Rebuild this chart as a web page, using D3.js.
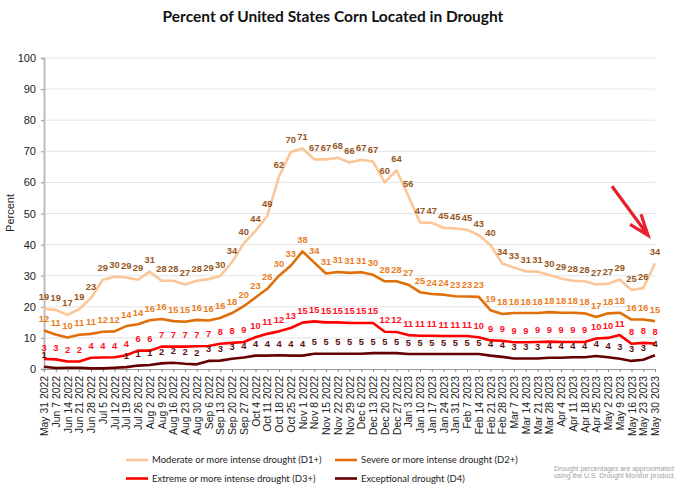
<!DOCTYPE html>
<html>
<head>
<meta charset="utf-8">
<script src="https://cdn.jsdelivr.net/npm/d3@7"></script>
<style>
  html, body { margin: 0; padding: 0; background: #fff; }
  svg { display: block; }
  text { font-family: "Liberation Sans", Arial, sans-serif; }
</style>
</head>
<body>
<div id="chart"></div>
<script>
const dates = ['May 31 2022','Jun 7 2022','Jun 14 2022','Jun 21 2022','Jun 28 2022','Jul 5 2022','Jul 12 2022','Jul 19 2022','Jul 26 2022',
  'Aug 2 2022','Aug 9 2022','Aug 16 2022','Aug 23 2022','Aug 30 2022','Sep 6 2022','Sep 13 2022','Sep 20 2022','Sep 27 2022',
  'Oct 4 2022','Oct 11 2022','Oct 18 2022','Oct 25 2022','Nov 1 2022','Nov 8 2022','Nov 15 2022','Nov 22 2022','Nov 29 2022',
  'Dec 6 2022','Dec 13 2022','Dec 20 2022','Dec 27 2022','Jan 3 2023','Jan 10 2023','Jan 17 2023','Jan 24 2023','Jan 31 2023',
  'Feb 7 2023','Feb 14 2023','Feb 21 2023','Feb 28 2023','Mar 7 2023','Mar 14 2023','Mar 21 2023','Mar 28 2023',
  'Apr 4 2023','Apr 11 2023','Apr 18 2023','Apr 25 2023','May 2 2023','May 9 2023','May 16 2023','May 23 2023','May 30 2023'];

const d1 = [19.3,19.0,17.4,19.3,22.8,28.7,29.7,29.4,28.7,31.3,28.4,28.4,27.2,28.4,28.9,29.9,34.4,40.4,44.4,49.2,61.9,69.8,70.9,67.4,67.4,67.9,66.4,67.3,66.7,60.0,63.9,55.7,47.1,47.0,45.4,45.2,44.8,43.0,39.9,33.9,32.6,31.4,31.3,30.2,29.1,28.4,28.2,27.2,27.4,28.8,25.4,26.0,34.0];
const d2 = [12.4,11.1,10.1,11.0,11.3,12.0,12.1,13.8,14.4,15.7,16.1,15.4,15.2,15.8,15.6,16.4,18.0,20.2,23.0,25.8,30.0,33.2,37.8,34.2,30.7,31.2,30.9,31.1,30.3,28.2,28.2,27.1,24.7,24.1,23.9,23.4,23.3,23.2,18.9,17.7,18.0,18.0,18.0,18.3,18.1,18.1,17.9,16.7,17.9,18.1,15.9,15.9,15.4];
const d3s = [3.2,3.1,2.4,2.4,3.6,3.7,3.8,4.4,5.9,5.9,7.2,7.2,7.2,7.3,7.4,8.1,8.4,8.7,10.2,11.3,12.1,13.2,14.9,15.3,15.0,15.0,14.8,14.8,14.8,12.0,11.9,10.9,10.7,10.7,10.6,10.6,10.6,10.2,9.2,9.1,8.6,8.6,8.7,8.8,8.7,8.7,8.7,9.8,10.0,10.9,8.1,8.4,8.2];
const d4 = [0.7,0.3,0.4,0.4,0.2,0.2,0.4,0.6,1.1,1.3,1.8,2.0,1.7,1.5,2.6,2.7,3.3,3.7,4.3,4.3,4.4,4.3,4.3,4.9,4.9,4.9,4.9,4.9,5.1,5.1,5.1,4.8,4.8,4.8,4.8,4.8,4.8,4.8,4.3,3.9,3.4,3.4,3.4,3.6,3.6,3.8,3.8,4.2,3.8,3.3,2.6,3.0,4.4];

const yTicks = [0,10,20,30,40,50,60,70,80,90,100];

const series = [
  { name: 'Moderate or more intense drought (D1+)', values: d1, line: '#fcc698', label: '#95561c' },
  { name: 'Severe or more intense drought (D2+)', values: d2, line: '#e06f08', label: '#ea7d1e' },
  { name: 'Extreme or more intense drought (D3+)', values: d3s, line: '#ff0000', label: '#ff0f1f' },
  { name: 'Exceptional drought (D4)', values: d4, line: '#650000', label: '#5c1010' }
];

const width = 680, height = 500;
const margin = { left: 44, right: 25, top: 58, bottom: 131 };

const svg = d3.select('#chart').append('svg')
  .attr('width', width)
  .attr('height', height);

const xScale = d3.scalePoint().domain(dates).range([margin.left, width - margin.right]);
const yScale = d3.scaleLinear().domain([0, 100]).range([height - margin.bottom, margin.top]);

// Title
svg.append('text')
  .attr('x', 333)
  .attr('y', 22)
  .attr('text-anchor', 'middle')
  .attr('font-size', '15.5px')
  .attr('font-weight', 'bold')
  .style('font-family', 'Lato, sans-serif')
  .attr('fill', '#111')
  .text('Percent of United States Corn Located in Drought');

// Gridlines
svg.append('g')
  .selectAll('line')
  .data(yTicks.slice(1))
  .enter()
  .append('line')
  .attr('x1', margin.left)
  .attr('x2', width - margin.right)
  .attr('y1', d => yScale(d))
  .attr('y2', d => yScale(d))
  .attr('stroke', '#e4e4e4')
  .attr('stroke-width', 1);

// Y axis
const yAxis = svg.append('g')
  .attr('transform', 'translate(' + margin.left + ',0)')
  .call(d3.axisLeft(yScale).tickValues(yTicks).tickSize(3).tickPadding(5));
yAxis.select('.domain').attr('stroke', '#bdbdbd').attr('stroke-width', 2);
yAxis.selectAll('.tick line').attr('stroke', '#999');
yAxis.selectAll('text').attr('font-size', '11px').attr('fill', '#222').style('font-family', '"Liberation Sans", Arial, sans-serif');

// Y label
svg.append('text')
  .attr('transform', 'translate(14,' + 213 + ') rotate(-90)')
  .attr('text-anchor', 'middle')
  .attr('font-size', '11px')
  .attr('fill', '#222')
  .text('Percent');

// X axis
const xAxis = svg.append('g')
  .attr('transform', 'translate(0,' + (height - margin.bottom) + ')')
  .call(d3.axisBottom(xScale).tickSize(3));
xAxis.select('.domain').attr('stroke', '#999');
xAxis.selectAll('.tick line').attr('stroke', '#888');
xAxis.selectAll('text')
  .attr('font-size', '10.4px')
  .attr('fill', '#222')
  .style('font-family', '"Liberation Sans", Arial, sans-serif')
  .attr('text-anchor', 'end')
  .attr('transform', 'rotate(-90)')
  .attr('x', -7)
  .attr('y', 0)
  .attr('dy', '0.35em');

// Lines
const line = d3.line()
  .x((d, i) => xScale(dates[i]))
  .y(d => yScale(d));

svg.selectAll('path.series')
  .data(series)
  .enter()
  .append('path')
  .attr('class', 'series')
  .attr('fill', 'none')
  .attr('stroke', d => d.line)
  .attr('stroke-width', 2.6)
  .attr('stroke-linejoin', 'round')
  .attr('d', d => line(d.values));

// Data labels, the zeros on D4 are left off like in the original
series.forEach(s => {
  svg.append('g')
    .selectAll('text')
    .data(s.values.map((v, i) => ({ v: v, date: dates[i] })).filter(d => Math.round(d.v) > 0))
    .enter()
    .append('text')
    .attr('x', d => xScale(d.date))
    .attr('y', d => yScale(d.v) - 8.5)
    .attr('text-anchor', 'middle')
    .attr('font-size', '9.3px')
    .attr('font-weight', 'bold')
    .attr('fill', s.label)
    .text(d => Math.round(d.v));
});

// Arrow pointing at the last point
const tipX = xScale(dates[dates.length - 1]) - 7;
const tipY = yScale(d1[d1.length - 1]) - 28;
svg.append('path')
  .attr('d', 'M' + (tipX - 36) + ',' + (tipY - 49) + 'L' + tipX + ',' + tipY
    + 'M' + (tipX - 18) + ',' + (tipY - 11) + 'L' + tipX + ',' + tipY + 'L' + (tipX - 7) + ',' + (tipY - 21))
  .attr('fill', 'none')
  .attr('stroke', '#e8202f')
  .attr('stroke-width', 3.2);

// Legend
const legendPos = [[126, 460], [335, 460], [126, 478.5], [335, 478.5]];
series.forEach((s, i) => {
  const pos = legendPos[i];
  svg.append('line')
    .attr('x1', pos[0])
    .attr('x2', pos[0] + 22)
    .attr('y1', pos[1])
    .attr('y2', pos[1])
    .attr('stroke', s.line)
    .attr('stroke-width', 2.6);
  svg.append('text')
    .attr('x', pos[0] + 26)
    .attr('y', pos[1])
    .attr('dy', '0.35em')
    .attr('font-size', '9.5px')
    .style('font-family', 'Lato, sans-serif')
    .attr('fill', '#222')
    .text(s.name);
});

// Note
svg.append('text')
  .attr('x', 554)
  .attr('y', 470.5)
  .attr('font-size', '6.9px')
  .attr('fill', '#a0a0a0')
  .text('Drought percentages are approximated');
svg.append('text')
  .attr('x', 554)
  .attr('y', 478)
  .attr('font-size', '6.9px')
  .attr('fill', '#a0a0a0')
  .text('using the U.S. Drought Monitor product.');
</script>
</body>
</html>
